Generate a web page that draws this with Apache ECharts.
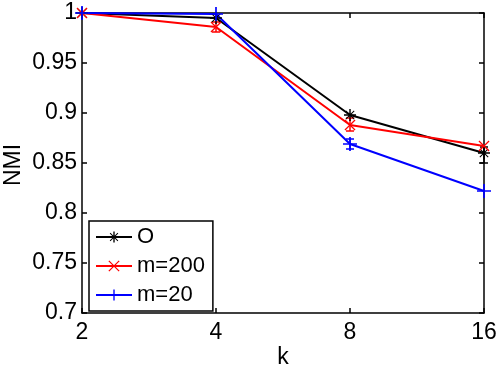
<!DOCTYPE html>
<html>
<head>
<meta charset="utf-8">
<script src="https://cdn.jsdelivr.net/npm/echarts@6/dist/echarts.min.js"></script>
<style>
html, body { margin: 0; padding: 0; background: #fff; }
#main { width: 498px; height: 371px; }
</style>
</head>
<body>
<div id="main"></div>
<script>
// data
var kValues = ['2', '4', '8', '16']
var nmiO = [1.0, 0.995, 0.898, 0.860]
var nmiM200 = [1.0, 0.986, 0.888, 0.867]
var nmiM20 = [1.0, 0.999, 0.869, 0.822]
// small error bars: [category index, low, high]
var errO = [[3, 0.850, 0.866]]
var errM200 = [[1, 0.981, 0.991], [2, 0.882, 0.895]]
var errM20 = [[2, 0.864, 0.874]]

var plusPath = 'path://M-0.6,-5H0.6V5H-0.6Z M-5,-0.6H5V0.6H-5Z'
var crossPath = 'path://M-5,-4.2L-4.2,-5L5,4.2L4.2,5Z M4.2,-5L5,-4.2L-4.2,5L-5,4.2Z'
var starPath = 'path://M-0.6,-5H0.6V5H-0.6Z M-5,-0.6H5V0.6H-5Z M-3.8,-3.2L-3.2,-3.8L3.8,3.2L3.2,3.8Z M3.2,-3.8L3.8,-3.2L-3.2,3.8L-3.8,3.2Z'

function errSeries (data, color) {
  return {
    type: 'custom',
    data: data,
    silent: true,
    z: 1,
    renderItem: function (params, api) {
      var top = api.coord([api.value(0), api.value(2)])
      var bot = api.coord([api.value(0), api.value(1)])
      var st = { stroke: color, lineWidth: 1.5 }
      return {
        type: 'group',
        children: [
          { type: 'line', shape: { x1: top[0], y1: top[1], x2: bot[0], y2: bot[1] }, style: st },
          { type: 'line', shape: { x1: top[0] - 4, y1: top[1], x2: top[0] + 4, y2: top[1] }, style: st },
          { type: 'line', shape: { x1: bot[0] - 4, y1: bot[1], x2: bot[0] + 4, y2: bot[1] }, style: st }
        ]
      }
    }
  }
}

function lineSeries (name, data, color, symbol, size) {
  return {
    name: name,
    type: 'line',
    data: data,
    symbol: symbol,
    symbolSize: size,
    showAllSymbol: true,
    z: 3,
    lineStyle: { color: color, width: 2 },
    itemStyle: { color: color },
    emphasis: { disabled: true }
  }
}

var axisLine = { show: true, onZero: false, lineStyle: { color: '#000', width: 1.5 } }
var font = 'Liberation Sans'

var chart = echarts.init(document.getElementById('main'))
chart.setOption({
  animation: false,
  backgroundColor: '#fff',
  grid: { left: 82, right: 14, top: 13, bottom: 58, outerBoundsMode: 'none', containLabel: false },
  // y axis title, placed by hand like the MATLAB ylabel
  graphic: [{
    type: 'text',
    x: 14,
    y: 165,
    rotation: Math.PI / 2,
    style: {
      text: 'NMI',
      font: '23px "Liberation Sans"',
      fill: '#000',
      align: 'center',
      verticalAlign: 'middle'
    }
  }],
  legend: {
    orient: 'vertical',
    left: 89,
    top: 221,
    padding: [5, 8, 5, 6],
    itemGap: 7,
    itemWidth: 36,
    itemHeight: 14,
    borderColor: '#000',
    borderWidth: 1.5,
    backgroundColor: '#fff',
    textStyle: { fontFamily: font, fontSize: 22, color: '#000' },
    data: ['O', 'm=200', 'm=20']
  },
  xAxis: [
    {
      type: 'category',
      data: kValues,
      boundaryGap: false,
      name: 'k',
      nameLocation: 'middle',
      nameGap: 33,
      nameMoveOverlap: false,
      nameTextStyle: { fontFamily: font, fontSize: 23, color: '#000' },
      axisLine: axisLine,
      axisTick: { inside: true, length: 5, lineStyle: { color: '#000', width: 1.5 } },
      axisLabel: { fontFamily: font, fontSize: 23, color: '#000', margin: 8 },
      splitLine: { show: false }
    },
    {
      type: 'category',
      data: kValues,
      boundaryGap: false,
      position: 'top',
      axisLine: axisLine,
      axisTick: { inside: true, length: 5, lineStyle: { color: '#000', width: 1.5 } },
      axisLabel: { show: false },
      splitLine: { show: false }
    }
  ],
  yAxis: [
    {
      type: 'value',
      min: 0.7,
      max: 1,
      interval: 0.05,
      axisLine: axisLine,
      axisTick: { show: true, inside: true, length: 5, lineStyle: { color: '#000', width: 1.5 } },
      axisLabel: {
        fontFamily: font, fontSize: 23, color: '#000', margin: 5,
        formatter: function (v) { return String(Math.round(v * 100) / 100) }
      },
      splitLine: { show: false }
    },
    {
      type: 'value',
      min: 0.7,
      max: 1,
      interval: 0.05,
      position: 'right',
      axisLine: axisLine,
      axisTick: { show: true, inside: true, length: 5, lineStyle: { color: '#000', width: 1.5 } },
      axisLabel: { show: false },
      splitLine: { show: false }
    }
  ],
  series: [
    lineSeries('O', nmiO, '#000000', starPath, 12),
    lineSeries('m=200', nmiM200, '#ff0000', crossPath, 11),
    lineSeries('m=20', nmiM20, '#0000ff', plusPath, 14),
    errSeries(errO, '#000000'),
    errSeries(errM200, '#ff0000'),
    errSeries(errM20, '#0000ff')
  ]
})
</script>
</body>
</html>
